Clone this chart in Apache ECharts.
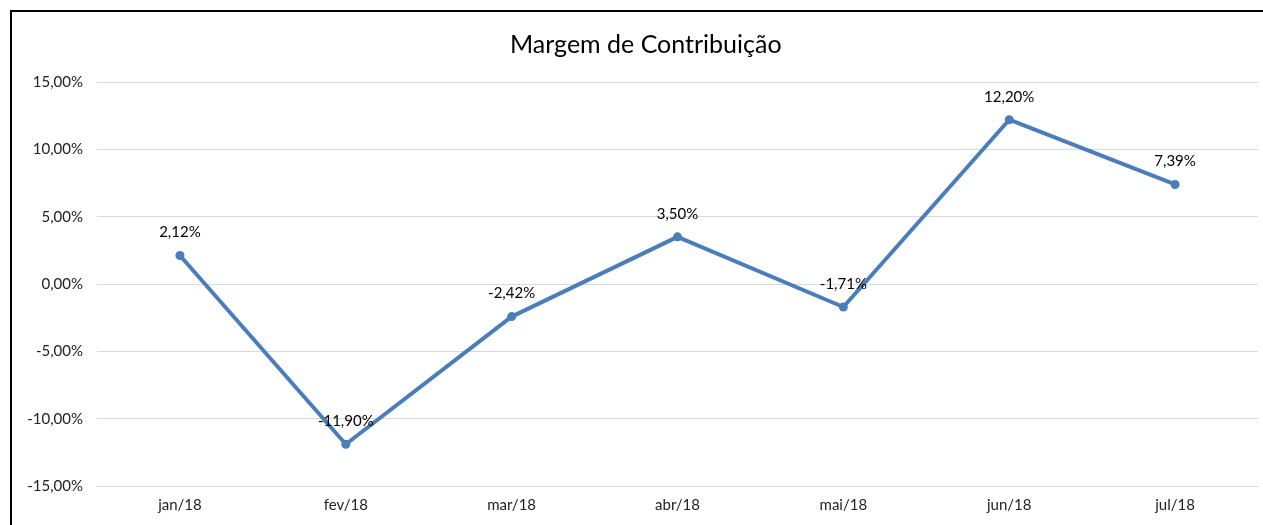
<!DOCTYPE html>
<html>
<head>
    <meta charset="utf-8">
    <title>Margem de Contribuição</title>
    <script src="https://cdn.jsdelivr.net/npm/echarts@6/dist/echarts.min.js"></script>
    <style>
        body { margin: 0; background: #fff; }
        #frame { position: absolute; left: 10px; top: 10px; width: 1300px; height: 600px;
                 border-left: 2px solid #000; border-top: 2px solid #000; }
    </style>
</head>
<body>
<div id="frame"></div>
<div id="main" style="position:absolute;left:0;top:0;width:1263px;height:525px;"></div>
<script type="text/javascript">
    var meses = ['jan/18', 'fev/18', 'mar/18', 'abr/18', 'mai/18', 'jun/18', 'jul/18'];
    var margem = [2.12, -11.90, -2.42, 3.50, -1.71, 12.20, 7.39];

    var fonte = 'Lato, "Open Sans", sans-serif';

    function pct(v) {
        return v.toFixed(2).replace('.', ',') + '%';
    }

    var myChart = echarts.init(document.getElementById('main'));

    var option = {
        animation: false,
        title: {
            text: 'Margem de Contribuição',
            left: 505,
            top: 27,
            textStyle: { fontFamily: fonte, fontSize: 25, fontWeight: 'normal', color: '#000' }
        },
        grid: { left: 97, right: 5, top: 82, bottom: 39 },
        xAxis: {
            type: 'category',
            data: meses,
            axisLine: { show: false },
            axisTick: { show: false },
            axisLabel: { fontFamily: fonte, fontSize: 15, color: '#222', margin: 12 }
        },
        yAxis: {
            type: 'value',
            min: -15,
            max: 15,
            interval: 5,
            axisLine: { show: false },
            axisTick: { show: false },
            splitLine: { lineStyle: { color: '#d9d9d9', width: 1 } },
            axisLabel: {
                fontFamily: fonte, fontSize: 15, color: '#222', margin: 14,
                formatter: function (v) { return pct(v); }
            }
        },
        series: [{
            type: 'line',
            data: margem,
            symbol: 'circle',
            symbolSize: 9,
            lineStyle: { color: '#4a7ebb', width: 4 },
            itemStyle: { color: '#4a7ebb' },
            label: {
                show: true,
                position: 'top',
                distance: 11,
                fontFamily: fonte,
                fontSize: 15,
                color: '#000',
                formatter: function (p) { return pct(p.value); }
            }
        }]
    };

    myChart.setOption(option);
</script>
</body>
</html>
